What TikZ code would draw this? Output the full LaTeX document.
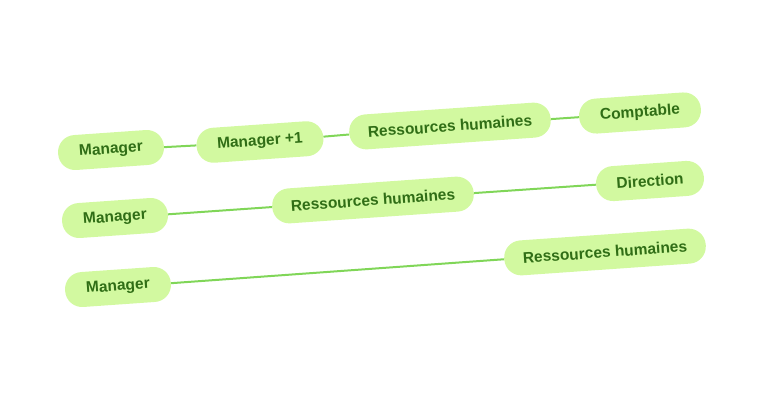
\documentclass[tikz,border=0pt]{standalone}
\usepackage{fontspec}
\setmainfont{Liberation Sans}
\definecolor{pillfill}{RGB}{210,249,160}
\definecolor{pilltext}{RGB}{48,110,22}
\definecolor{linkcol}{RGB}{128,214,88}
\begin{document}
\begin{tikzpicture}[x=1pt,y=-1pt,
  pill/.style={fill=pillfill, rounded corners=17pt, minimum height=35pt, inner sep=0pt,
    rotate=4, text=pilltext, font=\fontsize{15.5}{18}\selectfont\bfseries},
  link/.style={draw=linkcol, line width=2pt}]
\useasboundingbox (0,0) rectangle (766,400);
\node[pill, minimum width=106pt] (r1a) at (111,150) {Manager};
\node[pill, minimum width=127pt] (r1b) at (260,142) {Manager +1};
\node[pill, minimum width=202pt] (r1c) at (450,126) {Ressources humaines};
\node[pill, minimum width=122pt] (r1d) at (640,113) {Comptable};
\node[pill, minimum width=106pt] (r2a) at (115,218) {Manager};
\node[pill, minimum width=202pt] (r2b) at (373,200) {Ressources humaines};
\node[pill, minimum width=108pt] (r2c) at (650,181) {Direction};
\node[pill, minimum width=106pt] (r3a) at (118,287) {Manager};
\node[pill, minimum width=202pt] (r3b) at (605,252) {Ressources humaines};
\draw[link] (r1a) -- (r1b);
\draw[link] (r1b) -- (r1c);
\draw[link] (r1c) -- (r1d);
\draw[link] (r2a) -- (r2b);
\draw[link] (r2b) -- (r2c);
\draw[link] (r3a) -- (r3b);
\end{tikzpicture}
\end{document}
